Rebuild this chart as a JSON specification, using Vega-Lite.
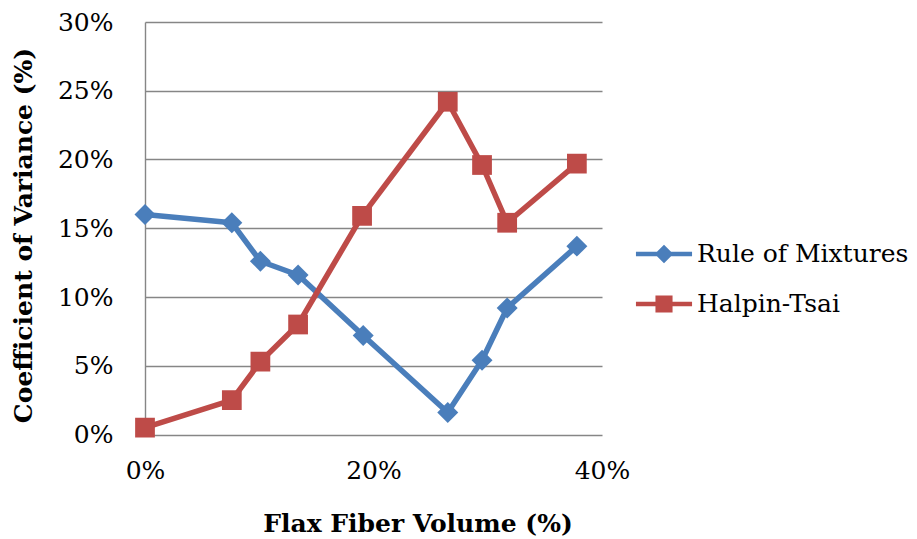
{
  "$schema": "https://vega.github.io/schema/vega-lite/v6.json",
  "autosize": "none",
  "width": 457,
  "height": 412.5,
  "padding": {"left": 145, "top": 22, "right": 315, "bottom": 104.5},
  "background": "white",
  "config": {
    "view": {"stroke": null},
    "font": "DejaVu Serif"
  },
  "data": {
    "values": [
      {"series": "Rule of Mixtures", "x": 0.0, "y": 0.160},
      {"series": "Rule of Mixtures", "x": 0.076, "y": 0.154},
      {"series": "Rule of Mixtures", "x": 0.101, "y": 0.126},
      {"series": "Rule of Mixtures", "x": 0.134, "y": 0.116},
      {"series": "Rule of Mixtures", "x": 0.191, "y": 0.072},
      {"series": "Rule of Mixtures", "x": 0.265, "y": 0.016},
      {"series": "Rule of Mixtures", "x": 0.295, "y": 0.054},
      {"series": "Rule of Mixtures", "x": 0.317, "y": 0.092},
      {"series": "Rule of Mixtures", "x": 0.378, "y": 0.137},
      {"series": "Halpin-Tsai", "x": 0.0, "y": 0.005},
      {"series": "Halpin-Tsai", "x": 0.076, "y": 0.025},
      {"series": "Halpin-Tsai", "x": 0.101, "y": 0.053},
      {"series": "Halpin-Tsai", "x": 0.134, "y": 0.080},
      {"series": "Halpin-Tsai", "x": 0.190, "y": 0.159},
      {"series": "Halpin-Tsai", "x": 0.265, "y": 0.242},
      {"series": "Halpin-Tsai", "x": 0.295, "y": 0.196},
      {"series": "Halpin-Tsai", "x": 0.317, "y": 0.154},
      {"series": "Halpin-Tsai", "x": 0.378, "y": 0.197}
    ]
  },
  "encoding": {
    "x": {
      "field": "x", "type": "quantitative",
      "scale": {"domain": [0, 0.4], "nice": false},
      "axis": {
        "values": [0, 0.2, 0.4], "format": ".0%",
        "grid": false, "domain": false, "ticks": false, "tickSize": 0,
        "labelFont": "DejaVu Serif", "labelFontSize": 25, "labelColor": "black",
        "labelPadding": 24, "labelFlush": false,
        "title": "Flax Fiber Volume (%)",
        "titleFont": "DejaVu Serif", "titleFontSize": 25, "titleFontWeight": "bold", "titleColor": "black",
        "titleX": 272.5, "titleY": 97, "titleAlign": "center", "titleBaseline": "alphabetic", "titleAnchor": null
      }
    },
    "y": {
      "field": "y", "type": "quantitative",
      "scale": {"domain": [0, 0.3], "nice": false},
      "axis": {
        "values": [0, 0.05, 0.1, 0.15, 0.2, 0.25, 0.3], "format": ".0%",
        "grid": true, "gridColor": "#868686", "gridWidth": 1.4,
        "domain": true, "domainColor": "#868686", "domainWidth": 1.4,
        "ticks": false, "tickSize": 0,
        "labelFont": "DejaVu Serif", "labelFontSize": 25, "labelColor": "black",
        "labelPadding": 32, "labelFlush": false,
        "title": "Coefficient of Variance (%)",
        "titleFont": "DejaVu Serif", "titleFontSize": 25, "titleFontWeight": "bold", "titleColor": "black",
        "titleX": -122, "titleY": 213, "titleAngle": -90, "titleAlign": "center", "titleBaseline": "middle", "titleAnchor": null
      }
    },
    "color": {
      "field": "series", "type": "nominal",
      "scale": {"domain": ["Rule of Mixtures", "Halpin-Tsai"], "range": ["#4A7EBB", "#BE4B48"]},
      "legend": {
        "title": null, "orient": "none", "legendX": 504, "legendY": 217,
        "symbolSize": 900, "symbolStrokeWidth": 0,
        "labelFont": "DejaVu Serif", "labelFontSize": 25, "labelColor": "black",
        "labelOffset": 18, "rowPadding": 22, "padding": 0,
        "labelLimit": 400,
        "encode": {
          "symbols": {
            "update": {
              "shape": {"signal": "datum.value === 'Rule of Mixtures' ? 'M-1.87,-0.15H1.87V0.15H-1.87Z M0,-0.62L0.62,0L0,0.62L-0.62,0Z' : 'M-1.87,-0.15H1.87V0.15H-1.87Z M-0.57,-0.57H0.57V0.57H-0.57Z'"},
              "fill": {"scale": "color", "field": "value"},
              "stroke": {"value": "transparent"},
              "opacity": {"value": 1},
              "fillOpacity": {"value": 1}
            }
          }
        }
      }
    }
  },
  "layer": [
    {
      "mark": {"type": "line", "strokeWidth": 5.5, "strokeJoin": "round"}
    },
    {
      "transform": [{"filter": "datum.series === 'Rule of Mixtures'"}],
      "mark": {"type": "point", "filled": true, "opacity": 1, "strokeWidth": 0, "shape": "diamond", "size": 440}
    },
    {
      "transform": [{"filter": "datum.series === 'Halpin-Tsai'"}],
      "mark": {"type": "point", "filled": true, "opacity": 1, "strokeWidth": 0, "shape": "square", "size": 390}
    }
  ]
}
